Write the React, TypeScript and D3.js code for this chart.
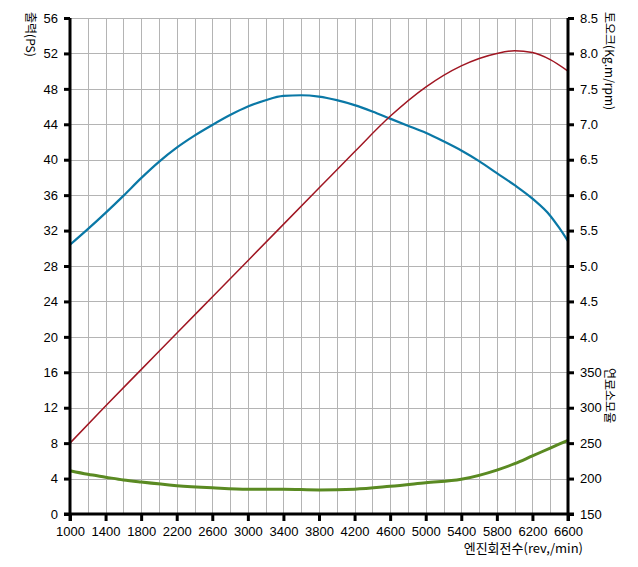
import * as d3 from "d3";
import { useEffect, useRef } from "react";

const W = 638;
const H = 567;
const PLOT = { left: 70, right: 568, top: 18, bottom: 514 };

// rpm samples
const rpm = [1000, 1200, 1400, 1600, 1800, 2000, 2200, 2400, 2600, 2800, 3000, 3200, 3400, 3600, 3800, 4000, 4200, 4400, 4600, 4800, 5000, 5200, 5400, 5600, 5800, 6000, 6200, 6400, 6500, 6600];
// 토오크 (kg.m)
const torque = [5.3, 5.52, 5.75, 5.99, 6.24, 6.47, 6.67, 6.84, 6.99, 7.13, 7.25, 7.34, 7.4, 7.41, 7.39, 7.34, 7.27, 7.18, 7.08, 6.98, 6.88, 6.76, 6.63, 6.48, 6.31, 6.14, 5.95, 5.71, 5.54, 5.35];

const powerRpm = [1000, 1400, 1800, 2200, 2600, 3000, 3400, 3800, 4200, 4600, 5000, 5400, 5800, 6000, 6200, 6400, 6600];
// 출력 (PS)
const power = [8.0, 12.2, 16.3, 20.4, 24.5, 28.6, 32.7, 36.8, 40.9, 44.9, 48.2, 50.6, 52.0, 52.3, 52.1, 51.3, 50.0];

const fuelRpm = [1000, 1200, 1400, 1600, 1800, 2200, 2600, 3000, 3400, 3800, 4200, 4600, 5000, 5400, 5800, 6000, 6200, 6400, 6600];
// 연료소모율
const fuel = [211, 206, 202, 198, 195, 190, 187, 185, 185, 184, 185, 189, 194, 199, 212, 221, 232, 243, 254];

const xTicks = d3.range(1000, 6601, 400);
const xGrid = d3.range(1000, 6601, 200);
const powerTicks = d3.range(0, 57, 4);
const torqueTicks = [4.0, 4.5, 5.0, 5.5, 6.0, 6.5, 7.0, 7.5, 8.0, 8.5];
const fuelTicks = [150, 200, 250, 300, 350];

const FONT = "'Liberation Sans', Arial, sans-serif";
const KFONT = "'Noto Sans CJK KR', sans-serif";

export default function App() {
  const xScale = d3.scaleLinear().domain([1000, 6600]).range([PLOT.left, PLOT.right]);
  const yPower = d3.scaleLinear().domain([0, 56]).range([PLOT.bottom, PLOT.top]);
  const yTorque = d3.scaleLinear().domain([1.5, 8.5]).range([PLOT.bottom, PLOT.top]);
  const yFuel = d3.scaleLinear().domain([150, 850]).range([PLOT.bottom, PLOT.top]);

  const axesRef = useRef<SVGGElement>(null);

  useEffect(() => {
    const g = d3.select(axesRef.current);
    g.selectAll("*").remove();

    const style = (sel: any) => {
      sel.selectAll(".domain").remove();
      sel.selectAll(".tick line").attr("stroke", "#000").attr("stroke-width", 3);
      sel.selectAll(".tick text").attr("font-family", FONT).attr("font-size", 13).attr("fill", "#000");
    };

    g.append("g")
      .attr("transform", `translate(0,${PLOT.bottom})`)
      .call(d3.axisBottom(xScale).tickValues(xTicks).tickSize(7).tickPadding(6).tickFormat(d3.format("d")))
      .call(style);

    g.append("g")
      .attr("transform", `translate(${PLOT.left},0)`)
      .call(d3.axisLeft(yPower).tickValues(powerTicks).tickSize(6).tickPadding(6).tickFormat(d3.format("d")))
      .call(style);

    g.append("g")
      .attr("transform", `translate(${PLOT.right},0)`)
      .call(d3.axisRight(yTorque).tickValues(torqueTicks).tickSize(6).tickPadding(6).tickFormat(d3.format(".1f")))
      .call(style);

    g.append("g")
      .attr("transform", `translate(${PLOT.right},0)`)
      .call(d3.axisRight(yFuel).tickValues(fuelTicks).tickSize(6).tickPadding(6).tickFormat(d3.format("d")))
      .call(style);
  }, []);

  const torqueLine = d3.line<number>().x((_, i) => xScale(rpm[i])).y((d) => yTorque(d)).curve(d3.curveMonotoneX);
  const powerLine = d3.line<number>().x((_, i) => xScale(powerRpm[i])).y((d) => yPower(d)).curve(d3.curveMonotoneX);
  const fuelLine = d3.line<number>().x((_, i) => xScale(fuelRpm[i])).y((d) => yFuel(d)).curve(d3.curveMonotoneX);

  return (
    <svg width={W} height={H} style={{ position: "absolute", left: 0, top: 0, background: "#fff" }}>
      {/* grid */}
      <g stroke="#b4b4b4" strokeWidth={1}>
        {xGrid.map((v) => (
          <line key={"x" + v} x1={Math.round(xScale(v)) + 0.5} x2={Math.round(xScale(v)) + 0.5} y1={PLOT.top} y2={PLOT.bottom} />
        ))}
        {powerTicks.map((v) => (
          <line key={"y" + v} x1={PLOT.left} x2={PLOT.right} y1={Math.round(yPower(v)) + 0.5} y2={Math.round(yPower(v)) + 0.5} />
        ))}
      </g>

      <path d={fuelLine(fuel) || ""} fill="none" stroke="#5a8a22" strokeWidth={3} />
      <path d={torqueLine(torque) || ""} fill="none" stroke="#0a78a6" strokeWidth={2.2} />
      <path d={powerLine(power) || ""} fill="none" stroke="#a01622" strokeWidth={1.5} />

      {/* axis lines */}
      <g stroke="#000" strokeWidth={3}>
        <line x1={PLOT.left} x2={PLOT.left} y1={PLOT.top} y2={PLOT.bottom + 7} />
        <line x1={PLOT.right} x2={PLOT.right} y1={PLOT.top} y2={PLOT.bottom + 7} />
        <line x1={PLOT.left - 6} x2={PLOT.right + 6} y1={PLOT.bottom} y2={PLOT.bottom} />
      </g>
      <g ref={axesRef} />

      {/* titles */}
      <text transform={`translate(26,12) rotate(90)`} fontFamily={KFONT} fontSize={12} fill="#000">출력(PS)</text>
      <text transform={`translate(605,12) rotate(90)`} fontFamily={KFONT} fontSize={12} fill="#000">토오크(Kg.m/rpm)</text>
      <text transform={`translate(605,368) rotate(90)`} fontFamily={KFONT} fontSize={12} fill="#000">연료소모율</text>
      <text x={583} y={553} textAnchor="end" fontFamily={KFONT} fontSize={13} fill="#000">엔진회전수(rev,/min)</text>
    </svg>
  );
}
